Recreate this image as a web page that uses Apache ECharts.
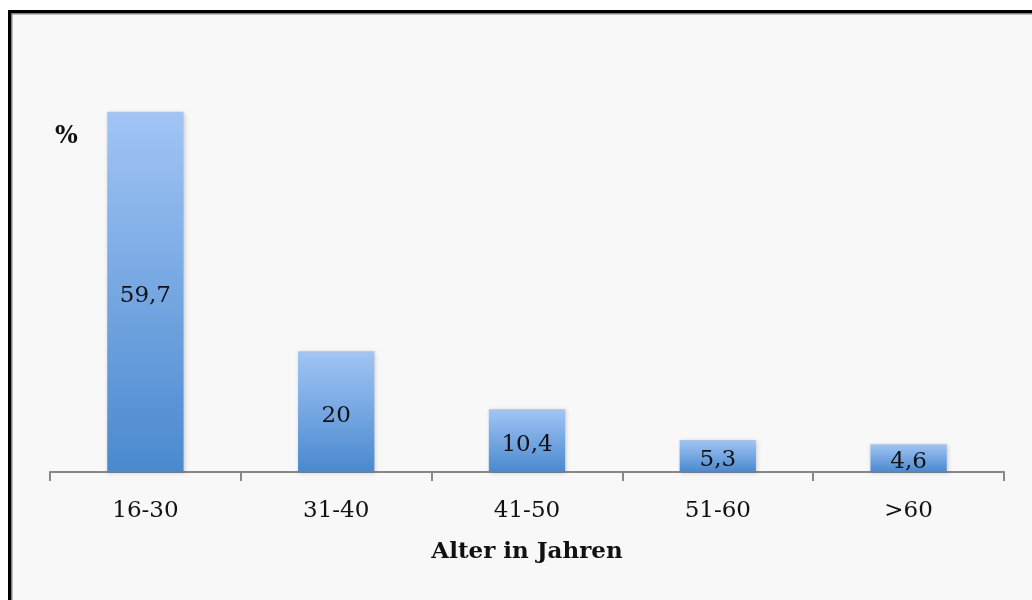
<!DOCTYPE html>
<html>
<head>
<meta charset="utf-8">
<script src="https://cdn.jsdelivr.net/npm/echarts@6/dist/echarts.min.js"></script>
<style>
  html, body { margin: 0; padding: 0; background: #fff; }
  #chart { width: 1032px; height: 600px; }
</style>
</head>
<body>
<div id="chart"></div>
<script>
// Altersverteilung
var ageGroups = ['16-30', '31-40', '41-50', '51-60', '>60'];
var percentValues = [59.7, 20, 10.4, 5.3, 4.6];

var chart = echarts.init(document.getElementById('chart'));

var serif = 'DejaVu Serif';

var option = {
  backgroundColor: '#fff',
  animation: false,
  graphic: [{
    type: 'rect',
    z: -10,
    shape: { x: 10, y: 12, width: 1100, height: 700 },
    style: { fill: '#f8f8f8', stroke: '#000', lineWidth: 4 }
  }, {
    type: 'rect',
    z: -9,
    shape: { x: 12, y: 14, width: 1100, height: 700 },
    style: { fill: 'none', stroke: '#aaa', lineWidth: 1.5 }
  }],
  title: {
    text: '%',
    left: 50,
    top: 120,
    textStyle: { fontFamily: serif, fontSize: 24, fontWeight: 'bold', color: '#111' }
  },
  grid: { left: 50, right: 28, top: 110, bottom: 128 },
  xAxis: {
    type: 'category',
    data: ageGroups,
    name: 'Alter in Jahren',
    nameLocation: 'middle',
    nameGap: 69,
    nameTextStyle: { fontFamily: serif, fontSize: 23, fontWeight: 'bold', color: '#111' },
    axisLine: { lineStyle: { color: '#888', width: 2 } },
    axisTick: { show: true, length: 9, lineStyle: { color: '#888', width: 2 } },
    axisLabel: { fontFamily: serif, fontSize: 23, color: '#111', margin: 28 }
  },
  yAxis: {
    type: 'value',
    min: 0,
    max: 60,
    show: false,
    splitLine: { show: false }
  },
  series: [{
    type: 'bar',
    data: percentValues,
    barWidth: '40%',
    itemStyle: {
      color: new echarts.graphic.LinearGradient(0, 0, 0, 1, [
        { offset: 0, color: '#a1c5f5' },
        { offset: 1, color: '#4a89cf' }
      ]),
      shadowColor: 'rgba(0,0,0,0.18)',
      shadowBlur: 4,
      shadowOffsetX: 1,
      shadowOffsetY: 1
    },
    label: {
      show: true,
      position: 'inside',
      offset: [0, 4],
      fontFamily: serif,
      fontSize: 23,
      color: '#111',
      formatter: function(p) {
        return String(p.value).replace('.', ',');
      }
    }
  }]
};

chart.setOption(option);
</script>
</body>
</html>
